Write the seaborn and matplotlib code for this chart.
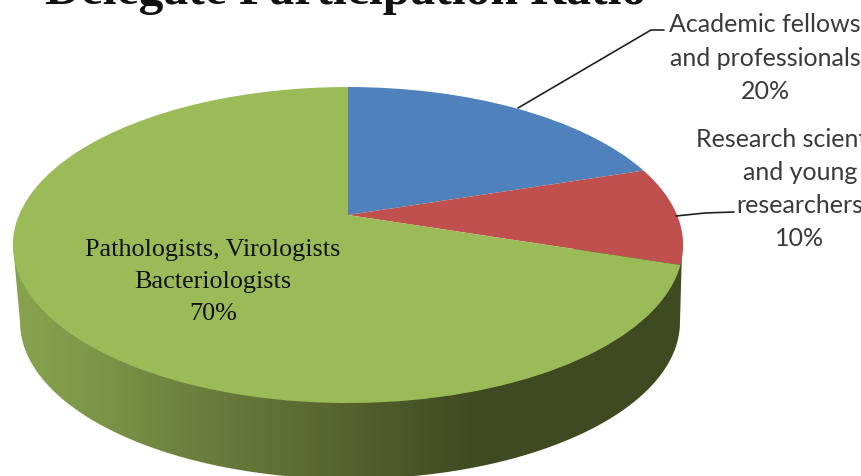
import numpy as np
import matplotlib
matplotlib.use("Agg")
import matplotlib.pyplot as plt
import seaborn as sns
from matplotlib.transforms import Transform
from matplotlib.path import Path
from matplotlib.patches import PathPatch
from matplotlib.colors import LinearSegmentedColormap

title = "Delegate Participation Ratio"
categories = ["Academic fellows\nand professionals", "Research scientists\nand young\nresearchers",
              "Pathologists, Virologists\nBacteriologists"]
shares = [20, 10, 70]
slice_colors = ["#4f81bd", "#c0504d", "#9bbb59"]

W, H = 862, 476
sns.set_theme(style="white")
sns.set_palette(slice_colors)
fig = plt.figure(figsize=(W / 100, H / 100), dpi=100)
ax = fig.add_axes([0, 0, 1, 1])


class Tilt(Transform):
    """Perspective view of the unit-circle pie, in pixel coordinates."""
    input_dims = output_dims = 2
    is_affine = False
    has_inverse = False

    def __init__(self, cx, cy, a, b, k):
        super().__init__()
        self.p = (cx, cy, a, b, k)

    def transform_non_affine(self, v):
        cx, cy, a, b, k = self.p
        v = np.asarray(v, float)
        d = 1 + k * v[:, 1]
        return np.column_stack([cx + a * v[:, 0] / d, cy - b * v[:, 1] / d])


wedges, _ = ax.pie(shares, startangle=90, counterclock=False,
                   colors=sns.color_palette(slice_colors, 3),
                   wedgeprops=dict(linewidth=0), normalize=True)
ax.set_aspect("auto")
ax.set_xlim(0, W)
ax.set_ylim(H, 0)
ax.axis("off")

tilt = Tilt(348, 215, 329, 152.3, 0.19)
for w in wedges:
    w.set_transform(tilt + ax.transData)
    w.set_zorder(3)
    w.set_clip_on(False)

# side wall of the disc
t = np.linspace(0, np.pi, 200)
wall = np.vstack([[[682, 250]],
                  np.column_stack([350 + 330 * np.cos(t), 322 + 157 * np.sin(t)]),
                  [[13, 245]]])
wall_path = Path(wall)
shade = LinearSegmentedColormap.from_list("wall", [
    (0.0, "#88a34f"), (0.13, "#7c9447"), (0.24, "#6e8440"),
    (0.41, "#5f6e33"), (0.69, "#3f4a21"), (1.0, "#3f4a21")])
im = ax.imshow(np.linspace(0, 1, 400)[None, :], cmap=shade, aspect="auto",
               extent=[13, 683, 490, 240], zorder=2)
im.set_clip_path(PathPatch(wall_path, transform=ax.transData))
ax.set_xlim(0, W)
ax.set_ylim(H, 0)

ax.text(346, 4, title, ha="center", va="baseline", family="Liberation Serif",
        weight="bold", fontsize=35.7, color="#111111", zorder=5)

sans = dict(ha="center", va="center", multialignment="center", family="Lato",
            fontsize=18, color="#3a3a3a", zorder=5, linespacing=1.53)
ax.text(765, 58, f"{categories[0]}\n{shares[0]}%", **sans)
ax.text(800, 189, f"{categories[1]}\n{shares[1]}%", **sans)
ax.text(213, 282, f"{categories[2]}\n{shares[2]}%", ha="center", va="center",
        multialignment="center", family="Liberation Serif", fontsize=18.8,
        color="#111111", zorder=5, linespacing=1.58)

ax.plot([518, 651, 664], [108, 30, 30], color="#222222", lw=1.2, zorder=4)
ax.plot([676, 705, 734], [216, 213, 212], color="#222222", lw=1.2, zorder=4)

fig.savefig("out.png", dpi=100, facecolor="white")
